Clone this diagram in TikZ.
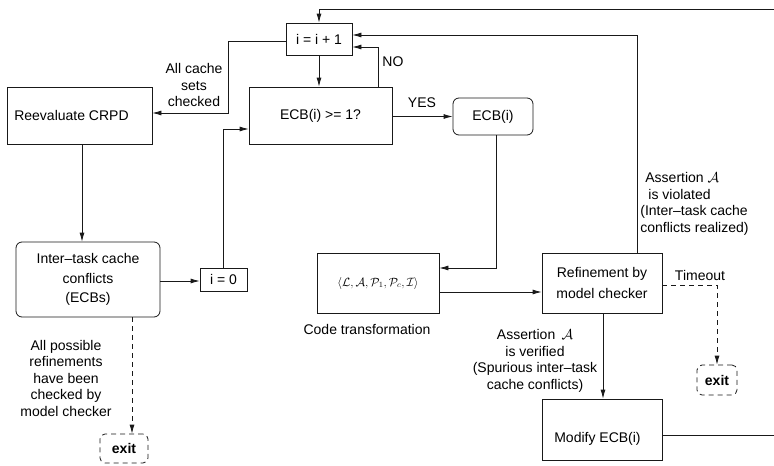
\documentclass[tikz,border=0pt]{standalone}
\usepackage{fontspec}
\setmainfont{Liberation Sans}
\usetikzlibrary{arrows.meta,calc}

\begin{document}
\begin{tikzpicture}[x=1pt,y=-1pt,
  font=\fontsize{14}{16.5}\selectfont,
  line width=0.8pt,
  box/.style={draw=black!90,rectangle,inner sep=0pt,align=center},
  rbox/.style={box,rounded corners=6pt},
  exitbox/.style={box,rounded corners=5pt,dash pattern=on 5pt off 4pt,font=\fontsize{14}{16}\selectfont\bfseries},
  arr/.style={draw=black!90,-{Latex[length=9pt,width=5pt]}},
  dsh/.style={arr,dash pattern=on 5pt off 4pt},
  lbl/.style={align=center,inner sep=0pt}]

\useasboundingbox[fill=white] (0,0) rectangle (774,466);

% boxes
\node[box,minimum width=66pt,minimum height=32pt] (inc) at (319,39) {i = i + 1};
\node[box,minimum width=143pt,minimum height=57pt] (test) at (320.5,115.5) {ECB(i) >= 1?};
\node[box,minimum width=145pt,minimum height=57pt] (reeval) at (79.5,115.5) {\hspace*{-16pt}Reevaluate CRPD};
\node[rbox,minimum width=144pt,minimum height=75pt] (inter) at (88,279.5) {Inter--task cache\\[3pt]conflicts\\[3pt](ECBs)};
\node[box,minimum width=47pt,minimum height=23pt] (izero) at (223.5,279.5) {i = 0};
\node[rbox,minimum width=80pt,minimum height=37pt] (ecb) at (493,116.5) {ECB(i)};
\node[box,minimum width=122pt,minimum height=60pt] (code) at (378,283)
  {\fontsize{12}{14}\selectfont$\langle\mathcal{L},\mathcal{A},\mathcal{P}_{1},\mathcal{P}_{c},\mathcal{I}\rangle$};
\node[box,minimum width=120pt,minimum height=60pt] (refine) at (602,283) {Refinement by\\[5pt]model checker};
\node[box,minimum width=120pt,minimum height=61pt] (modify) at (602,429.5)
  {\raisebox{-12.5pt}[0pt][0pt]{\hspace*{-9pt}Modify ECB(i)}};
\node[exitbox,minimum width=40pt,minimum height=30pt] (exitR) at (717,380) {exit};
\node[exitbox,minimum width=48pt,minimum height=29pt] (exitL) at (124,448.5) {exit};

% turning points
\coordinate (k1) at (228,113);
\coordinate (far) at (790,9);

% feedback loop from Modify ECB(i) back to the counter
\draw[arr] ([yshift=-5.5pt]modify.east) -- ([yshift=-5.5pt]modify.east -| far) -- (far) -- (far -| inc.north) -- (inc.north);

% assertion violated: back to the counter
\draw[arr] ([xshift=35pt]refine.north) |- ([yshift=4pt]inc.east);
% NO branch
\draw[arr] ([xshift=57.5pt]test.north) |- ([yshift=-8pt]inc.east);
\node[lbl,anchor=west] (no) at (382,62) {NO};

% counter to test
\draw[arr] (inc.south) -- (inc.south |- test.north);

% all sets checked
\draw[arr] ([yshift=-2pt]inc.west) -| (k1) -- (k1 -| reeval.east);
\node[lbl] (allsets) at (194,85) {All cache\\sets\\checked};

% left column
\draw[arr] ([xshift=2.5pt]reeval.south) -- ([xshift=2.5pt]reeval.south |- inter.north);
\draw[arr] ([yshift=-1.5pt]inter.east) -- ([yshift=-1.5pt]izero.west);
\draw[arr] (izero.north) |- ([yshift=-13.5pt]test.west);

% YES branch
\draw[arr] (test.east |- ecb.west) -- (ecb.west);
\node[lbl] (yes) at (422,103) {YES};

% ECB(i) to code transformation
\draw[arr] ([xshift=3pt]ecb.south) |- ([yshift=15pt]code.east);
\node[lbl] (codelbl) at (367,329) {Code transformation};

% code transformation to refinement
\draw[arr] ([yshift=-9pt]code.east) -- ([yshift=-9pt]refine.west);

% verified
\draw[arr] ([xshift=1pt]refine.south) -- ([xshift=1pt]refine.south |- modify.north);
\node[lbl] (verified) at (535,361) {Assertion\,\ $\mathcal{A}$\\is verified\\(Spurious inter--task\\cache conflicts)};

% violated label
\node[lbl,align=left,anchor=north west] (violated) at (640,172)
  {\hspace{5pt}Assertion $\mathcal{A}$\\\hspace{8pt}is violated\\(Inter--task cache\\conflicts realized)};

% timeout
\draw[dsh] ([yshift=-2pt]refine.east) -| (exitR.north);
\node[lbl] (timeout) at (700,275) {Timeout};

% exhaustion of refinements
\draw[dsh] ([xshift=44pt]inter.south) -- ([xshift=44pt]inter.south |- exitL.north);
\node[lbl] (allref) at (66,378) {All possible\\refinements\\have been\\checked by\\model checker};

\end{tikzpicture}
\end{document}
